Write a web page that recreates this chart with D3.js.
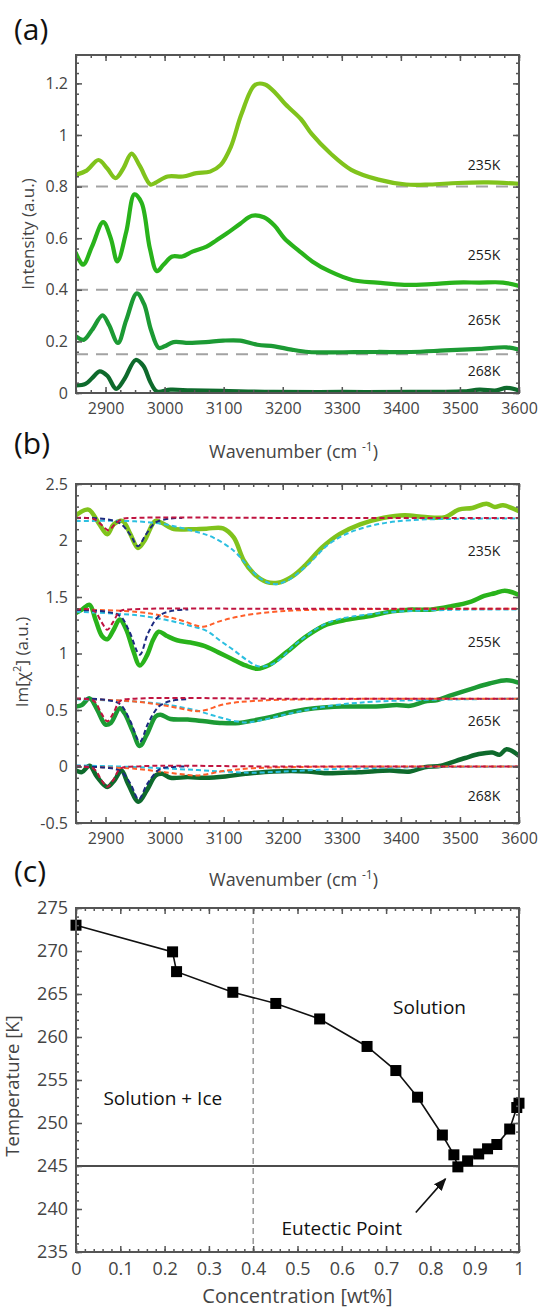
<!DOCTYPE html>
<html>
<head>
<meta charset="utf-8">
<script src="https://cdn.jsdelivr.net/npm/d3@7/dist/d3.min.js"></script>
<style>
  html, body { margin: 0; padding: 0; background: #fff; }
  svg text { font-family: "Open Sans", "DejaVu Sans", sans-serif; }
</style>
</head>
<body>
<div id="chart"></div>
<script>
// ---------- panel (a): Raman intensity spectra ----------
const specA235 = [[2850,0.846],[2868,0.862],[2888,0.903],[2903,0.87],[2917,0.833],[2930,0.87],[2944,0.928],[2958,0.88],[2976,0.808],[2984,0.814],[3005,0.839],[3031,0.839],[3054,0.852],[3077,0.858],[3095,0.884],[3112,0.953],[3130,1.08],[3153,1.194],[3170,1.196],[3188,1.162],[3205,1.118],[3231,1.061],[3249,1.004],[3281,0.928],[3316,0.865],[3362,0.827],[3409,0.808],[3449,0.808],[3496,0.814],[3548,0.816],[3600,0.811]];
const specA255 = [[2850,0.542],[2862,0.497],[2877,0.567],[2896,0.662],[2909,0.599],[2920,0.51],[2935,0.624],[2949,0.77],[2961,0.738],[2975,0.561],[2987,0.472],[2998,0.497],[3013,0.529],[3030,0.529],[3047,0.548],[3071,0.567],[3088,0.592],[3105,0.618],[3128,0.656],[3148,0.687],[3168,0.681],[3186,0.649],[3203,0.599],[3226,0.554],[3250,0.51],[3279,0.472],[3319,0.437],[3360,0.428],[3406,0.419],[3452,0.422],[3492,0.428],[3533,0.428],[3573,0.428],[3600,0.415]];
const specA265 = [[2850,0.219],[2863,0.206],[2877,0.244],[2895,0.301],[2906,0.263],[2921,0.194],[2935,0.282],[2953,0.386],[2965,0.346],[2977,0.244],[2990,0.175],[3000,0.181],[3015,0.197],[3041,0.194],[3070,0.197],[3099,0.203],[3128,0.203],[3157,0.187],[3186,0.181],[3215,0.168],[3244,0.159],[3302,0.158],[3360,0.159],[3417,0.159],[3475,0.165],[3533,0.171],[3579,0.177],[3600,0.168]];
const specA268 = [[2850,0.029],[2866,0.035],[2877,0.057],[2890,0.084],[2903,0.067],[2918,0.016],[2932,0.054],[2951,0.128],[2964,0.105],[2976,0.042],[2987,0.006],[3010,0.013],[3045,0.01],[3097,0.008],[3184,0.004],[3300,0.004],[3417,0.004],[3504,0.006],[3533,0.013],[3562,0.01],[3579,0.02],[3600,0.01]];
const baselinesA = [0.8, 0.4, 0.15, 0];
const tempLabels = ["235K", "255K", "265K", "268K"];
const labelYA = [0.884, 0.535, 0.282, 0.086];
const labelYB = [1.91, 1.10, 0.406, -0.262];
const labelX = 3541;
const xTicksWave = [2900, 3000, 3100, 3200, 3300, 3400, 3500, 3600];
const yTicksA = [0, 0.2, 0.4, 0.6, 0.8, 1, 1.2];

// ---------- panel (b): Im[chi2] spectra and fitted components ----------
const specB235 = [[2850,2.224],[2871,2.273],[2888,2.157],[2903,2.056],[2914,2.143],[2929,2.172],[2942,2.056],[2955,1.934],[2966,1.998],[2984,2.172],[2995,2.157],[3013,2.105],[3041,2.099],[3071,2.105],[3099,2.108],[3117,2.027],[3134,1.823],[3151,1.707],[3172,1.634],[3192,1.626],[3215,1.678],[3238,1.78],[3267,1.94],[3296,2.056],[3331,2.143],[3371,2.201],[3406,2.224],[3441,2.207],[3475,2.207],[3498,2.273],[3521,2.288],[3545,2.326],[3559,2.297],[3573,2.311],[3600,2.259]];
const specB255 = [[2850,1.359],[2860,1.388],[2873,1.431],[2883,1.3],[2894,1.155],[2903,1.126],[2914,1.213],[2924,1.3],[2935,1.213],[2946,1.039],[2958,0.894],[2970,0.981],[2981,1.126],[2990,1.193],[3004,1.155],[3021,1.117],[3044,1.097],[3067,1.068],[3091,1.01],[3114,0.952],[3137,0.894],[3157,0.865],[3178,0.9],[3206,1.01],[3241,1.155],[3275,1.257],[3310,1.3],[3345,1.329],[3385,1.373],[3414,1.388],[3449,1.388],[3484,1.417],[3519,1.46],[3541,1.51],[3559,1.533],[3576,1.556],[3600,1.518]];
const specB265 = [[2850,0.531],[2860,0.545],[2873,0.603],[2886,0.502],[2900,0.371],[2909,0.386],[2924,0.516],[2932,0.473],[2946,0.313],[2958,0.182],[2970,0.284],[2985,0.444],[2993,0.458],[3010,0.42],[3039,0.415],[3068,0.4],[3097,0.385],[3126,0.385],[3149,0.406],[3184,0.444],[3219,0.487],[3254,0.516],[3300,0.531],[3358,0.531],[3393,0.545],[3416,0.537],[3440,0.574],[3462,0.589],[3486,0.632],[3521,0.69],[3550,0.734],[3579,0.763],[3600,0.74]];
const specB268 = [[2850,-0.036],[2860,-0.05],[2873,0.007],[2886,-0.094],[2903,-0.181],[2915,-0.123],[2927,-0.036],[2938,-0.152],[2956,-0.312],[2970,-0.21],[2985,-0.079],[2996,-0.065],[3010,-0.1],[3039,-0.094],[3068,-0.1],[3103,-0.088],[3137,-0.065],[3184,-0.044],[3242,-0.044],[3271,-0.059],[3329,-0.05],[3381,-0.036],[3416,-0.044],[3440,-0.007],[3468,0.007],[3486,0.037],[3509,0.075],[3532,0.11],[3555,0.124],[3567,0.104],[3579,0.153],[3600,0.095]];

const fit235Cyan = [[2850,2.172],[2950,2.17],[3000,2.143],[3048,2.085],[3082,2.027],[3117,1.91],[3140,1.78],[3163,1.66],[3186,1.614],[3209,1.649],[3244,1.794],[3278,1.968],[3313,2.07],[3360,2.143],[3417,2.18],[3504,2.192],[3600,2.195]];
const fit235Navy = [[2850,2.2],[2900,2.19],[2925,2.15],[2942,2.05],[2955,1.95],[2968,2.05],[2985,2.16],[3010,2.195],[3030,2.2]];
const fit235Crimson = [[2850,2.2],[2880,2.19],[2893,2.14],[2905,2.09],[2915,2.14],[2928,2.19],[2950,2.2],[3200,2.2],[3600,2.2]];

const fit255Cyan = [[2850,1.37],[2950,1.34],[3000,1.3],[3040,1.25],[3071,1.2],[3095,1.11],[3117,1.03],[3140,0.94],[3160,0.885],[3186,0.915],[3226,1.1],[3278,1.275],[3360,1.355],[3475,1.385],[3600,1.39]];
const fit255Orange = [[2850,1.39],[2950,1.37],[3000,1.33],[3030,1.29],[3065,1.237],[3090,1.28],[3128,1.33],[3186,1.37],[3260,1.388],[3600,1.395]];
const fit255Navy = [[2850,1.385],[2900,1.37],[2925,1.33],[2940,1.2],[2958,0.99],[2972,1.18],[2990,1.33],[3010,1.375],[3040,1.39]];
const fit255Crimson = [[2850,1.39],[2880,1.38],[2893,1.28],[2903,1.21],[2913,1.28],[2925,1.375],[2950,1.392],[3200,1.395],[3600,1.395]];

const fit265Cyan = [[2850,0.595],[2950,0.575],[3000,0.55],[3050,0.5],[3090,0.44],[3120,0.4],[3140,0.39],[3160,0.405],[3200,0.455],[3250,0.51],[3300,0.55],[3360,0.575],[3450,0.59],[3600,0.6]];
const fit265Orange = [[2850,0.6],[2950,0.575],[3000,0.54],[3040,0.5],[3055,0.49],[3070,0.5],[3100,0.55],[3150,0.58],[3250,0.595],[3600,0.6]];
const fit265Navy = [[2850,0.6],[2900,0.59],[2925,0.55],[2942,0.4],[2958,0.22],[2972,0.38],[2990,0.53],[3010,0.58],[3040,0.595]];
const fit265Crimson = [[2850,0.6],[2880,0.58],[2893,0.47],[2903,0.4],[2913,0.47],[2925,0.58],[2950,0.6],[3200,0.6],[3600,0.6]];

const fit268Cyan = [[2850,0.01],[2950,-0.005],[3050,-0.03],[3120,-0.05],[3150,-0.055],[3200,-0.045],[3280,-0.025],[3380,-0.01],[3600,0]];
const fit268Orange = [[2850,0],[2950,-0.02],[3000,-0.05],[3040,-0.075],[3055,-0.08],[3070,-0.07],[3100,-0.04],[3150,-0.015],[3250,-0.003],[3600,0]];
const fit268Navy = [[2850,0],[2900,-0.01],[2925,-0.04],[2942,-0.15],[2956,-0.29],[2970,-0.16],[2990,-0.03],[3010,-0.005],[3040,0]];
const fit268Crimson = [[2850,0],[2880,-0.02],[2893,-0.12],[2903,-0.18],[2913,-0.12],[2925,-0.02],[2950,0],[3200,0],[3600,0]];
const yTicksB = [-0.5, 0, 0.5, 1, 1.5, 2, 2.5];

// ---------- panel (c): phase diagram ----------
const concentration = [0, 0.218, 0.227, 0.354, 0.451, 0.55, 0.657, 0.722, 0.771, 0.827, 0.853, 0.862, 0.884, 0.909, 0.929, 0.95, 0.979, 0.995, 1.0];
const temperature  = [273.0, 269.9, 267.6, 265.2, 263.9, 262.1, 258.9, 256.1, 253.0, 248.6, 246.3, 244.9, 245.6, 246.4, 247.0, 247.5, 249.3, 251.8, 252.3];
const eutecticT = 245;
const dashedConc = 0.4;
const xTicksC = [0, 0.1, 0.2, 0.3, 0.4, 0.5, 0.6, 0.7, 0.8, 0.9, 1];
const yTicksC = [235, 240, 245, 250, 255, 260, 265, 270, 275];

const greens = ["#80c31c", "#29b31b", "#1c9a34", "#0e6a2c"];
const fitColors = { cyan: "#2cbfe0", orange: "#ff5f2a", navy: "#1c2a80", crimson: "#c01440" };

const width = 538, height = 1311;
const left = 76, right = 519;
const fmt = d => String(+d.toFixed(2));

const svg = d3.select("#chart").append("svg")
    .attr("width", width).attr("height", height);
svg.append("rect").attr("width", width).attr("height", height).attr("fill", "#fff");

function frame(x, y, top, bottom, xMajor, xMinor, yMajor, yMinor, tickFont) {
    const axisColor = "#555";
    const g = svg.append("g");
    const addAxis = (axis, tx, ty, labels) => {
        const a = g.append("g").attr("transform", `translate(${tx},${ty})`).call(axis);
        a.select(".domain").remove();
        a.selectAll("line").attr("stroke", axisColor).attr("stroke-width", 1.5);
        if (labels) {
            a.selectAll("text").attr("fill", "#444").style("font-size", tickFont + "px");
        } else {
            a.selectAll("text").remove();
        }
        return a;
    };
    // minor ticks
    addAxis(d3.axisBottom(x).tickValues(xMinor).tickSize(-3), 0, bottom, false);
    addAxis(d3.axisTop(x).tickValues(xMinor).tickSize(-3), 0, top, false);
    addAxis(d3.axisLeft(y).tickValues(yMinor).tickSize(-3), left, 0, false);
    addAxis(d3.axisRight(y).tickValues(yMinor).tickSize(-3), right, 0, false);
    // major ticks with labels
    addAxis(d3.axisBottom(x).tickValues(xMajor).tickSize(-6).tickPadding(10).tickFormat(fmt), 0, bottom, true);
    addAxis(d3.axisTop(x).tickValues(xMajor).tickSize(-6), 0, top, false);
    addAxis(d3.axisLeft(y).tickValues(yMajor).tickSize(-6).tickPadding(8).tickFormat(fmt), left, 0, true);
    addAxis(d3.axisRight(y).tickValues(yMajor).tickSize(-6), right, 0, false);
    g.append("rect")
        .attr("x", left).attr("y", top)
        .attr("width", right - left).attr("height", bottom - top)
        .attr("fill", "none").attr("stroke", axisColor).attr("stroke-width", 2);
}

function panelLetter(txt, baseline) {
    svg.append("text").attr("x", 14).attr("y", baseline)
        .style("font-size", "30px").attr("fill", "#111").text(txt);
}

function waveTitle(yPos) {
    const t = svg.append("text").attr("x", (left + right) / 2 - 4).attr("y", yPos)
        .attr("text-anchor", "middle").attr("fill", "#444").style("font-size", "18px");
    t.append("tspan").text("Wavenumber (cm ");
    t.append("tspan").attr("dy", -7).style("font-size", "12px").text("-1");
    t.append("tspan").attr("dy", 7).text(")");
}

function yTitle(txtParts, cx, cy, size) {
    const t = svg.append("text")
        .attr("transform", `translate(${cx},${cy}) rotate(-90)`)
        .attr("text-anchor", "middle").attr("fill", "#444").style("font-size", size + "px");
    txtParts.forEach(p => {
        const s = t.append("tspan").text(p.text);
        if (p.dy) s.attr("dy", p.dy);
        if (p.size) s.style("font-size", p.size + "px");
    });
}

const xWave = () => d3.scaleLinear().domain([2850, 3600]).range([left, right]);
const xMinorWave = d3.range(2850, 3601, 25);

// ---------- draw (a) ----------
const aTop = 55, aBottom = 393;
const xA = xWave();
const yA = d3.scaleLinear().domain([0, 1.31]).range([aBottom, aTop]);
const lineA = d3.line().x(d => xA(d[0])).y(d => yA(d[1])).curve(d3.curveCatmullRom.alpha(0.5));

svg.append("clipPath").attr("id", "clipA").append("rect")
    .attr("x", left).attr("y", aTop).attr("width", right - left).attr("height", aBottom - aTop + 2);

svg.append("g").attr("clip-path", "url(#clipA)")
    .selectAll("line").data(baselinesA).enter().append("line")
    .attr("x1", left).attr("x2", right)
    .attr("y1", d => yA(d)).attr("y2", d => yA(d))
    .attr("stroke", "#a3a3a3").attr("stroke-width", 2).attr("stroke-dasharray", "12,8");

svg.append("g").attr("clip-path", "url(#clipA)")
    .selectAll("path").data([specA235, specA255, specA265, specA268]).enter().append("path")
    .attr("d", lineA).attr("fill", "none")
    .attr("stroke", (d, i) => greens[i]).attr("stroke-width", 4.2)
    .attr("stroke-linejoin", "round").attr("stroke-linecap", "round");

frame(xA, yA, aTop, aBottom, xTicksWave, xMinorWave, yTicksA, d3.range(0, 1.311, 0.04), 16);

tempLabels.forEach((t, i) => {
    svg.append("text").attr("x", xA(labelX)).attr("y", yA(labelYA[i]) + 5)
        .attr("text-anchor", "middle").attr("fill", "#1a1a1a").style("font-size", "14px").text(t);
});
panelLetter("(a)", 40);
waveTitle(458);
yTitle([{ text: "Intensity (a.u.)" }], 34, 234, 17);

// ---------- draw (b) ----------
const bTop = 484, bBottom = 823;
const xB = xWave();
const yB = d3.scaleLinear().domain([-0.5, 2.5]).range([bBottom, bTop]);
const lineB = d3.line().x(d => xB(d[0])).y(d => yB(d[1])).curve(d3.curveCatmullRom.alpha(0.5));

svg.append("clipPath").attr("id", "clipB").append("rect")
    .attr("x", left).attr("y", bTop).attr("width", right - left).attr("height", bBottom - bTop);
const gB = svg.append("g").attr("clip-path", "url(#clipB)");

gB.selectAll("path.spec").data([specB235, specB255, specB265, specB268]).enter().append("path")
    .attr("class", "spec").attr("d", lineB).attr("fill", "none")
    .attr("stroke", (d, i) => greens[i]).attr("stroke-width", 4.5)
    .attr("stroke-linejoin", "round").attr("stroke-linecap", "round");

const fitsB = [
    [fit235Cyan, "cyan"], [fit255Cyan, "cyan"], [fit265Cyan, "cyan"], [fit268Cyan, "cyan"],
    [fit255Orange, "orange"], [fit265Orange, "orange"], [fit268Orange, "orange"],
    [fit235Navy, "navy"], [fit255Navy, "navy"], [fit265Navy, "navy"], [fit268Navy, "navy"],
    [fit235Crimson, "crimson"], [fit255Crimson, "crimson"], [fit265Crimson, "crimson"], [fit268Crimson, "crimson"]
];
gB.selectAll("path.fit").data(fitsB).enter().append("path")
    .attr("class", "fit").attr("d", d => lineB(d[0])).attr("fill", "none")
    .attr("stroke", d => fitColors[d[1]]).attr("stroke-width", 2)
    .attr("stroke-dasharray", "5,3");

frame(xB, yB, bTop, bBottom, xTicksWave, xMinorWave, yTicksB, d3.range(-0.5, 2.501, 0.1), 16);

tempLabels.forEach((t, i) => {
    svg.append("text").attr("x", xB(labelX)).attr("y", yB(labelYB[i]) + 5)
        .attr("text-anchor", "middle").attr("fill", "#1a1a1a").style("font-size", "14px").text(t);
});
panelLetter("(b)", 454);
waveTitle(886);
yTitle([{ text: "Im[\u03c7" }, { text: "2", dy: -7, size: 11 }, { text: "] (a.u.)", dy: 7 }], 28, 662, 17);

// ---------- draw (c) ----------
const cTop = 908, cBottom = 1252;
const xC = d3.scaleLinear().domain([0, 1]).range([left, right]);
const yC = d3.scaleLinear().domain([235, 275]).range([cBottom, cTop]);
const pts = concentration.map((c, i) => [c, temperature[i]]);

svg.append("line")
    .attr("x1", xC(dashedConc)).attr("x2", xC(dashedConc))
    .attr("y1", cTop).attr("y2", cBottom)
    .attr("stroke", "#999").attr("stroke-width", 1.5).attr("stroke-dasharray", "6,4");
svg.append("line")
    .attr("x1", left).attr("x2", right)
    .attr("y1", yC(eutecticT)).attr("y2", yC(eutecticT))
    .attr("stroke", "#111").attr("stroke-width", 1.6);

svg.append("path").datum(pts)
    .attr("d", d3.line().x(d => xC(d[0])).y(d => yC(d[1])))
    .attr("fill", "none").attr("stroke", "#111").attr("stroke-width", 1.6);

svg.selectAll("rect.pt").data(pts).enter().append("rect")
    .attr("class", "pt")
    .attr("x", d => xC(d[0]) - 5.5).attr("y", d => yC(d[1]) - 5.5)
    .attr("width", 11).attr("height", 11).attr("fill", "#000");

frame(xC, yC, cTop, cBottom, xTicksC, d3.range(0, 1.001, 0.02), yTicksC, d3.range(235, 275.1, 1), 18);

svg.append("defs").append("marker")
    .attr("id", "arrow").attr("viewBox", "0 0 10 10")
    .attr("refX", 9).attr("refY", 5)
    .attr("markerWidth", 8).attr("markerHeight", 8)
    .attr("orient", "auto")
    .append("path").attr("d", "M0,1 L10,5 L0,9 z").attr("fill", "#111");

svg.append("line")
    .attr("x1", xC(0.767)).attr("y1", yC(239.6))
    .attr("x2", xC(0.834)).attr("y2", yC(243.5))
    .attr("stroke", "#111").attr("stroke-width", 1.6)
    .attr("marker-end", "url(#arrow)");

const annots = [["Solution", 0.798, 263.5], ["Solution + Ice", 0.196, 252.9], ["Eutectic Point", 0.6, 237.8]];
annots.forEach(a => {
    svg.append("text").attr("x", xC(a[1])).attr("y", yC(a[2]) + 7)
        .attr("text-anchor", "middle").attr("fill", "#111").style("font-size", "19px").text(a[0]);
});

panelLetter("(c)", 882);
svg.append("text").attr("x", (left + right) / 2).attr("y", 1303)
    .attr("text-anchor", "middle").attr("fill", "#444").style("font-size", "20px")
    .text("Concentration [wt%]");
yTitle([{ text: "Temperature [K]" }], 19, 1086, 18.5);
</script>
</body>
</html>
